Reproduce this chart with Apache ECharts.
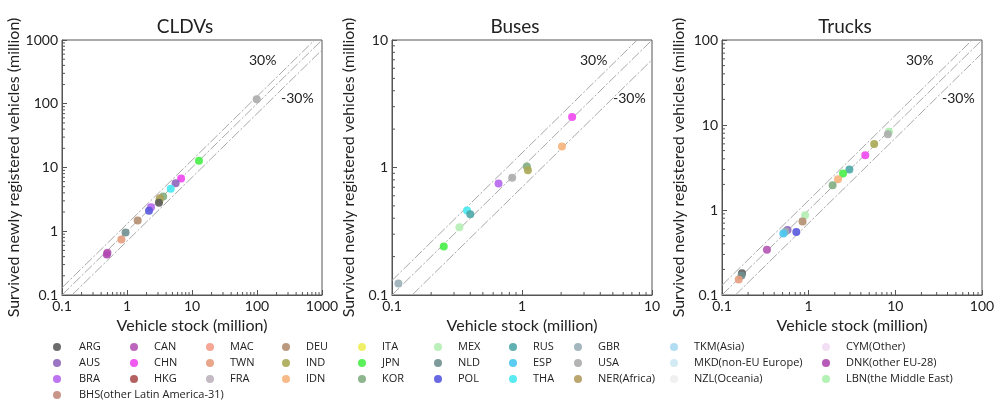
<!DOCTYPE html>
<html><head><meta charset="utf-8">
<script src="https://cdn.jsdelivr.net/npm/echarts@6/dist/echarts.min.js"></script>
<style>html,body{margin:0;padding:0;background:#fff}#c{width:998px;height:403px}</style>
</head><body><div id="c"></div><script>
const panelTitles = ['CLDVs', 'Buses', 'Trucks'];
const axisMin = [0.1, 0.1, 0.1];
const axisMax = [1000, 10, 100];
const bandFactors = [1.3, 1, 0.7];
const bandLabels = ['30%', '-30%'];
const minorSteps = [2, 3, 4, 5, 6, 7, 8, 9];

const cldvCountry  = ['USA','JPN','CHN','AUS','THA','KOR','NER','IND','ARG','BRA','POL','DEU','NLD','TWN','CAN','DNK'];
const cldvStock    = [99, 12.8, 6.8, 5.6, 4.7, 3.6, 3.2, 3.15, 3.1, 2.34, 2.18, 1.46, 0.95, 0.82, 0.5, 0.49];
const cldvSurvived = [118, 12.8, 6.7, 5.65, 4.65, 3.5, 3.3, 3.0, 2.8, 2.37, 2.1, 1.47, 0.96, 0.74, 0.46, 0.43];

const busCountry  = ['CHN','IDN','KOR','IND','USA','BRA','THA','RUS','MEX','JPN','GBR'];
const busStock    = [2.43, 2.03, 1.09, 1.11, 0.84, 0.66, 0.378, 0.40, 0.33, 0.25, 0.112];
const busSurvived = [2.49, 1.46, 1.02, 0.95, 0.83, 0.75, 0.46, 0.43, 0.34, 0.24, 0.123];

const truckCountry  = ['LBN','USA','IND','CHN','RUS','JPN','IDN','KOR','MEX','DEU','AUS','GBR','ESP','POL','CAN','ARG','NLD','TWN'];
const truckStock    = [8.45, 8.2, 5.7, 4.5, 2.95, 2.49, 2.18, 1.89, 0.91, 0.85, 0.57, 0.54, 0.51, 0.72, 0.33, 0.17, 0.168, 0.156];
const truckSurvived = [8.35, 7.77, 5.98, 4.4, 3.0, 2.68, 2.3, 1.95, 0.87, 0.73, 0.58, 0.56, 0.53, 0.55, 0.34, 0.18, 0.17, 0.152];

const legendColumns = [
  ['ARG','AUS','BRA','BHS(other Latin America-31)'],
  ['CAN','CHN','HKG'],
  ['MAC','TWN','FRA'],
  ['DEU','IND','IDN'],
  ['ITA','JPN','KOR'],
  ['MEX','NLD','POL'],
  ['RUS','ESP','THA'],
  ['GBR','USA','NER(Africa)'],
  ['TKM(Asia)','MKD(non-EU Europe)','NZL(Oceania)'],
  ['CYM(Other)','DNK(other EU-28)','LBN(the Middle East)']
];
const colors = {
  'ARG':'#5c5c5c','AUS':'#9065bb','BRA':'#b565ee','BHS(other Latin America-31)':'#c48a7c',
  'CAN':'#b455b4','CHN':'#ee48ee','HKG':'#ab4f4f','MAC':'#f59c88','TWN':'#e69c7e','FRA':'#beb2be',
  'DEU':'#b48e70','IND':'#aaaa55','IDN':'#f6b27c','ITA':'#eeee58','JPN':'#48ee48','KOR':'#82ae82',
  'MEX':'#b4eeb4','NLD':'#709090','POL':'#5858dd','RUS':'#4ea8a8','ESP':'#48c6f0','THA':'#48e8f0',
  'GBR':'#9aafb7','USA':'#acacac','NER(Africa)':'#b29c5e','TKM(Asia)':'#aad8f0','MKD(non-EU Europe)':'#cde8f2',
  'NZL(Oceania)':'#eeeeee','CYM(Other)':'#f2dcf2','DNK(other EU-28)':'#b048b0','LBN(the Middle East)':'#acf0ac'
};
const legendCenterX = [57, 134, 210, 286, 362, 438, 513, 578, 674, 826];
const legendRowY = [347, 363, 379, 395];

const FONT = 'Lato';
function fullName(code) {
  for (const col of legendColumns) for (const n of col) if (n === code || n.startsWith(code + '(')) return n;
  return code;
}
const panels = [
  [cldvCountry, cldvStock, cldvSurvived],
  [busCountry, busStock, busSurvived],
  [truckCountry, truckStock, truckSurvived]
];
const gridLeft = [62, 392, 722];
const grids = [], xAxes = [], yAxes = [], series = [], titles = [], graphics = [];
panels.forEach((p, i) => {
  grids.push({left: gridLeft[i], top: 40, width: 260, height: 255, show: true, borderColor: '#555', borderWidth: 1, backgroundColor: 'transparent'});
  const axCommon = {
    type: 'log', logBase: 10, min: axisMin[i], max: axisMax[i], gridIndex: i,
    nameLocation: 'middle',
    nameTextStyle: {fontFamily: FONT, fontSize: 16, color: '#222'},
    axisLine: {show: true, lineStyle: {color: '#555', width: 1}},
    axisTick: {show: true, inside: true, length: 5, lineStyle: {color: '#555'}},
    minorTick: {show: false},
    splitLine: {show: false},
    axisLabel: {fontFamily: FONT, fontSize: 14, color: '#222', margin: 4,
      formatter: v => String(+v.toPrecision(3))}
  };
  xAxes.push(Object.assign({}, axCommon, {name: 'Vehicle stock (million)', nameGap: 21}));
  yAxes.push(Object.assign({}, axCommon, {name: 'Survived newly registered vehicles (million)', nameGap: 35}));
  titles.push({text: panelTitles[i], left: gridLeft[i] + 118, top: 12, textAlign: 'center',
    textStyle: {fontFamily: FONT, fontSize: 19, fontWeight: 'normal', color: '#222'}});
  const lo = axisMin[i], hi = axisMax[i];
  bandFactors.forEach(k => {
    const x0 = Math.max(lo, lo / k), x1 = Math.min(hi, hi / k);
    series.push({type: 'line', xAxisIndex: i, yAxisIndex: i, silent: true, symbol: 'none', z: 1,
      lineStyle: {color: '#a8a8a8', width: 1, type: [10, 2, 2, 2]},
      data: [[x0, x0 * k], [x1, x1 * k]]});
  });
  const minorVals = [];
  for (let d = lo; d < hi * 0.999; d *= 10) minorSteps.forEach(m => minorVals.push(+(m * d).toPrecision(3)));
  series.push({type: 'custom', xAxisIndex: i, yAxisIndex: i, silent: true, clip: false, z: 5,
    data: minorVals.map(v => [v, v]),
    renderItem: (params, api) => {
      const v = api.value(0);
      const pb = api.coord([v, lo]);
      const pl = api.coord([lo, v]);
      const st = {stroke: '#555', lineWidth: 1};
      return {type: 'group', children: [
        {type: 'line', shape: {x1: pb[0], y1: pb[1], x2: pb[0], y2: pb[1] - 3}, style: st},
        {type: 'line', shape: {x1: pl[0], y1: pl[1], x2: pl[0] + 3, y2: pl[1]}, style: st}
      ]};
    }});
  const [cty, xs, ys] = p;
  const byName = {};
  cty.forEach((c, j) => {
    const n = fullName(c);
    (byName[n] = byName[n] || []).push([xs[j], ys[j]]);
  });
  Object.keys(byName).forEach(n => {
    series.push({type: 'scatter', name: n, xAxisIndex: i, yAxisIndex: i, symbolSize: 8, z: 3,
      itemStyle: {color: colors[n], opacity: 0.9}, data: byName[n]});
  });
});
const pctX = [[262, 297], [593, 629], [919, 958]];
pctX.forEach(xy => {
  graphics.push({type: 'text', left: xy[0] - 13, top: 53, style: {text: bandLabels[0], fontFamily: FONT, fontSize: 14, fill: '#222'}});
  graphics.push({type: 'text', left: xy[1] - 16, top: 91, style: {text: bandLabels[1], fontFamily: FONT, fontSize: 14, fill: '#222'}});
});
// legend drawn as graphic items (marker + label)
legendColumns.forEach((col, ci) => col.forEach((n, ri) => {
  const cx = legendCenterX[ci], cy = legendRowY[ri];
  graphics.push({type: 'circle', shape: {cx: cx, cy: cy, r: 4}, style: {fill: colors[n], opacity: 0.9}, silent: true});
  graphics.push({type: 'text', x: cx + (ci === 0 ? 22 : 20), y: cy,
    style: {text: n, fontFamily: 'Open Sans', fontSize: 11, fill: '#222', verticalAlign: 'middle', align: 'left'}, silent: true});
}));
const chart = echarts.init(document.getElementById('c'), null, {renderer: 'canvas'});
chart.setOption({
  animation: false,
  backgroundColor: '#fff',
  title: titles, grid: grids, xAxis: xAxes, yAxis: yAxes,
  series: series, graphic: graphics
});
</script></body></html>
